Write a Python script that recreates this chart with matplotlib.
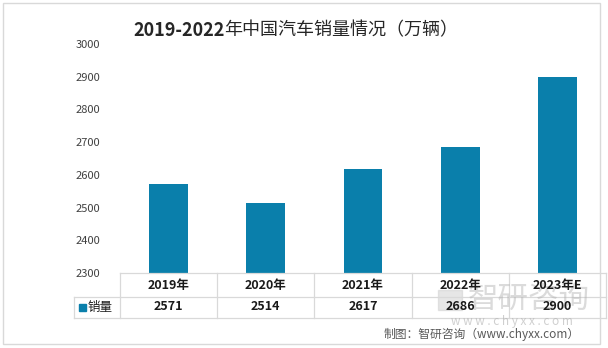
import matplotlib
matplotlib.use("Agg")
import matplotlib.pyplot as plt
from matplotlib.patches import Rectangle
from matplotlib.lines import Line2D

plt.rcParams['font.family'] = ['Noto Sans CJK SC', 'DejaVu Sans']

years = ['2019年', '2020年', '2021年', '2022年', '2023年E']
sales = [2571, 2514, 2617, 2686, 2900]
series_name = '销量'
yticks = [2300, 2400, 2500, 2600, 2700, 2800, 2900, 3000]
title_num = '2019-2022'
title_txt = '年中国汽车销量情况（万辆）'
source = '制图：智研咨询（www.chyxx.com）'

W, H = 608, 348
bar_color = '#0a7fab'
line_color = '#d9d9d9'

fig = plt.figure(figsize=(W / 100, H / 100), dpi=100)

def fx(px):
    return px / W

def fy(py):
    return 1 - py / H

# plot area
left, right, top, bottom = 120, 606, 44, 273
ax = fig.add_axes([fx(left), fy(bottom), fx(right - left), (bottom - top) / H])
x = list(range(len(years)))
ax.bar(x, sales, width=0.4, color=bar_color, zorder=2)
ax.set_xlim(-0.5, len(years) - 0.5)
ax.set_ylim(2300, 3000)
ax.set_yticks(yticks)
ax.set_yticklabels([str(t) for t in yticks], fontsize=8, color='#404040')
ax.tick_params(axis='y', length=0, pad=14)
ax.set_xticks([])
for s in ax.spines.values():
    s.set_visible(False)

# outer frame
fig.add_artist(Rectangle((fx(3), fy(344)), fx(597), (341) / H, fill=False,
                         edgecolor=line_color, lw=1.0, transform=fig.transFigure))

# data table
row1, row2, row3 = 273, 297, 318
lab_left = 74
colw = (right - left) / len(years)

def hline(y, x0, x1):
    fig.add_artist(Line2D([fx(x0), fx(x1)], [fy(y), fy(y)], color=line_color, lw=0.9,
                          transform=fig.transFigure))

def vline(xp, y0, y1):
    fig.add_artist(Line2D([fx(xp), fx(xp)], [fy(y0), fy(y1)], color=line_color, lw=0.9,
                          transform=fig.transFigure))

hline(row1, left, right)
hline(row2, lab_left, right)
hline(row3, lab_left, right)
vline(lab_left, row2, row3)
for i in range(len(years) + 1):
    vline(left + i * colw, row1, row3)

# watermark (behind table text)
fig.add_artist(Rectangle((fx(438), fy(310)), fx(24), 20 / H, color='#c8c8c8',
                         alpha=0.45, transform=fig.transFigure))
fig.text(fx(529), fy(299), '智研咨询', ha='center', va='center', fontsize=22,
         color='#b0b0b0', alpha=0.45)
fig.text(fx(512), fy(322), 'w w w . c h y x x . c o m', ha='center', va='center',
         fontsize=8.5, color='#b0b0b0', alpha=0.6)

for i, (yr, v) in enumerate(zip(years, sales)):
    cx = left + (i + 0.5) * colw
    fig.text(fx(cx), fy(285), yr, ha='center', va='center',
             fontsize=9, fontweight='bold', color='#1a1a1a')
    fig.text(fx(cx), fy(307), str(v), ha='center', va='center',
             fontsize=9, fontweight='bold', color='#1a1a1a')

# legend key in table
fig.add_artist(Rectangle((fx(79), fy(311)), fx(7), 7 / H, color=bar_color,
                         transform=fig.transFigure))
fig.text(fx(88), fy(307), series_name, ha='left', va='center',
         fontsize=9, color='#1a1a1a')

# title: bold digits, regular chinese
t1 = fig.text(fx(133), fy(30), title_num, ha='left', va='center',
              fontsize=13, fontweight='bold', color='#262626')
fig.canvas.draw()
bb = t1.get_window_extent()
fig.text(bb.x1 / fig.bbox.width, fy(30), title_txt, ha='left', va='center',
         fontsize=13, color='#262626')

# source
fig.text(fx(580), fy(334), source, ha='right', va='center', fontsize=8.5, color='#595959')

fig.savefig('out.png', dpi=100)
